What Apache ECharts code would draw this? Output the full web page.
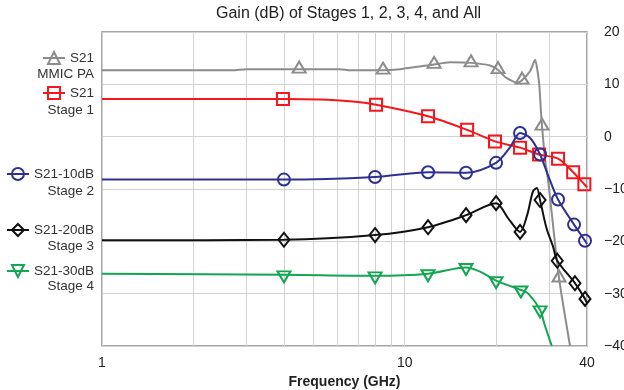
<!DOCTYPE html>
<html>
<head>
<meta charset="utf-8">
<script src="https://cdn.jsdelivr.net/npm/echarts@6/dist/echarts.min.js"></script>
<style>html,body{margin:0;padding:0;background:#fff}#c{width:624px;height:390px}</style>
</head>
<body>
<div id="c"></div>
<script>
// ---- data ----
const chartTitle = 'Gain (dB) of Stages 1, 2, 3, 4, and All';
const xAxisName = 'Frequency (GHz)';
const xGridValues = [1, 2, 3, 4, 5, 6, 7, 8, 9, 10, 20, 30, 40];
const xLabelValues = [1, 10, 40];
const yMin = -40, yMax = 20, yStep = 10;

const legendLine1 = ['S21', 'S21', 'S21-10dB', 'S21-20dB', 'S21-30dB'];
const legendLine2 = ['MMIC PA', 'Stage 1', 'Stage 2', 'Stage 3', 'Stage 4'];

const paFreq = [1, 2.7, 3.0, 4.48, 6.1, 6.6, 8.48, 9.65, 12.5, 14.1, 16.56, 19.13, 20.33, 21.45, 23.5, 24.41, 25.93, 26.95, 27.78, 28.2, 28.41, 29.07, 29.74, 32.33, 35.16];
const paGain = [12.7, 12.7, 12.9, 12.9, 12.9, 12.7, 12.7, 12.9, 13.8, 14.2, 14.1, 13.6, 12.8, 11.4, 10.3, 10.8, 12.5, 14.7, 10.3, 4.5, 2.0, -4.4, -8.2, -27, -40];
const paMark = [0, 0, 0, 1, 0, 0, 1, 0, 1, 0, 1, 0, 1, 0, 0, 1, 0, 0, 0, 0, 1, 0, 0, 1, 0];

const s1Freq = [1, 2.5, 3.96, 5.25, 6.6, 8.04, 11.94, 16.07, 19.87, 24.04, 27.78, 32.09, 36.0, 39.2, 40];
const s1Gain = [7.2, 7.2, 7.2, 7.1, 6.75, 6.1, 3.9, 1.3, -0.9, -2.1, -3.4, -4.2, -6.8, -9.1, -9.7];
const s1Mark = [0, 0, 1, 0, 0, 1, 1, 1, 1, 1, 1, 1, 1, 1, 0];

const s2Freq = [1, 3.99, 7.98, 11.94, 15.94, 20.03, 22.3, 24.04, 26.0, 27.99, 29.7, 32.09, 36.25, 39.4, 40];
const s2Gain = [-8.2, -8.2, -7.7, -6.8, -6.9, -5.0, -2.0, 0.7, -0.3, -3.4, -7.3, -12.0, -16.8, -19.9, -20.5];
const s2Mark = [0, 1, 1, 1, 1, 1, 0, 1, 0, 1, 0, 1, 1, 1, 0];

const s3Freq = [1, 3.99, 7.98, 11.94, 15.94, 20.03, 21.9, 24.04, 25.4, 26.5, 27.3, 27.99, 29.4, 30.9, 31.9, 36.5, 39.4, 40];
const s3Gain = [-19.8, -19.7, -18.8, -17.3, -15.0, -12.7, -15.5, -18.2, -14.9, -10.5, -9.8, -12.1, -17.5, -21.0, -23.7, -28.0, -31.0, -31.8];
const s3Mark = [0, 1, 1, 1, 1, 1, 0, 1, 0, 0, 0, 1, 0, 0, 1, 1, 1, 0];

const s4Freq = [1, 3.99, 7.98, 11.94, 15.94, 17.74, 20.03, 24.2, 25.5, 28.0, 29.0, 30.6];
const s4Gain = [-26.2, -26.4, -26.6, -26.2, -25.0, -25.8, -27.5, -29.3, -29.9, -33.1, -36.0, -40];
const s4Mark = [0, 1, 1, 1, 1, 0, 1, 1, 0, 1, 0, 0];

// ---- styles ----
const FONT = 'Liberation Sans, Arial, Helvetica, sans-serif';
const colors = ['#8c8c8c', '#f5161b', '#2e3192', '#111111', '#12a651'];
const symbols = ['triangle', 'rect', 'circle', 'diamond', 'triangle'];
const symbolSizes = [[13, 11], [12, 12], [12, 12], [11, 14], [13, 11]];
const symbolRot = [0, 0, 0, 0, 180];
const symbolOffs = [[0, -2], [0, 0], [0, 0], [0, 0], [0, 2]];
const legendY1 = [59, 94, 175, 231, 272];
const legendY2 = [74, 110, 191, 246, 286];

const seriesFreq = [paFreq, s1Freq, s2Freq, s3Freq, s4Freq];
const seriesGain = [paGain, s1Gain, s2Gain, s3Gain, s4Gain];
const seriesMark = [paMark, s1Mark, s2Mark, s3Mark, s4Mark];
const names = legendLine1.map((a, i) => a + ' ' + legendLine2[i]);

const series = names.map((name, i) => ({
  name,
  type: 'line',
  data: seriesFreq[i].map((f, k) => {
    const d = { value: [f, seriesGain[i][k]] };
    if (!seriesMark[i][k]) d.symbol = 'none';
    return d;
  }),
  smooth: i === 0 ? 0.2 : 0.3,
  showSymbol: true,
  showAllSymbol: true,
  symbol: symbols[i],
  symbolSize: symbolSizes[i],
  symbolRotate: symbolRot[i],
  symbolOffset: symbolOffs[i],
  lineStyle: { color: colors[i], width: 2 },
  itemStyle: { color: 'rgba(255,255,255,0)', borderColor: colors[i], borderWidth: 2 },
  emphasis: { disabled: true },
  z: 3 + i,
  clip: true
}));

const legends = names.map((name, i) => ({
  data: [name],
  right: 530,
  top: legendY1[i] - 8,
  padding: 0,
  itemWidth: 22,
  itemHeight: 15,
  selectedMode: false,
  formatter: () => legendLine1[i],
  textStyle: { fontFamily: FONT, fontSize: 13.5, color: '#333' }
}));

const graphics = legendLine2.map((t, i) => ({
  type: 'text',
  x: 94,
  y: legendY2[i],
  style: { text: t, align: 'right', verticalAlign: 'middle', font: '13.5px ' + FONT, fill: '#333' }
}));

const chart = echarts.init(document.getElementById('c'), null, { renderer: 'canvas' });
chart.setOption({
  animation: false,
  backgroundColor: '#fff',
  title: {
    text: chartTitle,
    left: 216,
    top: 6,
    padding: 0,
    textStyle: { fontFamily: FONT, fontSize: 16, fontWeight: 'normal', color: '#222' }
  },
  legend: legends,
  graphic: graphics,
  grid: {
    left: 102, right: 37, top: 32, bottom: 44,
    containLabel: false,
    outerBoundsMode: 'none',
    show: true, borderColor: '#8a8a8a', borderWidth: 1.5, backgroundColor: 'transparent'
  },
  xAxis: {
    type: 'log',
    logBase: 10,
    min: 1,
    max: 40,
    name: xAxisName,
    nameLocation: 'middle',
    nameGap: 28,
    nameTextStyle: { fontFamily: FONT, fontSize: 14, fontWeight: 'bold', color: '#222' },
    axisLine: { show: false },
    axisTick: { show: false, customValues: xGridValues },
    axisLabel: {
      customValues: xLabelValues,
      fontFamily: FONT, fontSize: 14, color: '#222', margin: 10,
      formatter: v => String(Math.round(v))
    },
    splitLine: { show: true, lineStyle: { color: '#d2d2d2', width: 1 } }
  },
  yAxis: {
    type: 'value',
    position: 'right',
    min: yMin,
    max: yMax,
    interval: yStep,
    axisLine: { show: false },
    axisTick: { show: false },
    axisLabel: {
      fontFamily: FONT, fontSize: 14, color: '#222', margin: 17,
      formatter: v => String(v).replace('-', '\u2212')
    },
    splitLine: { show: true, lineStyle: { color: '#d2d2d2', width: 1 } }
  },
  series
});
</script>
</body>
</html>
